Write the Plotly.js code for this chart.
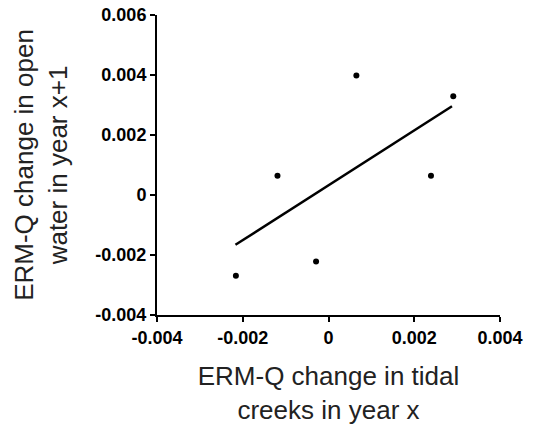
<!DOCTYPE html>
<html><head><meta charset="utf-8">
<script src="https://cdn.plot.ly/plotly-3.0.1.min.js"></script>
<style>html,body{margin:0;padding:0;background:#fff}#chart{width:534px;height:425px}</style>
</head><body><div id="chart"></div>
<script>
const creekChange = [-0.00216, -0.00119, -0.00029, 0.00065, 0.00239, 0.00291];
const openWaterChange = [-0.00269, 0.00064, -0.00222, 0.00398, 0.00064, 0.00329];
const fitX = [-0.00217, 0.00288];
const fitY = [-0.00166, 0.00296];
const xTickVals = [-0.004, -0.002, 0, 0.002, 0.004];
const xTickText = ['-0.004', '-0.002', '0', '0.002', '0.004'];
const yTickVals = [-0.004, -0.002, 0, 0.002, 0.004, 0.006];
const yTickText = ['-0.004', '-0.002', '0', '0.002', '0.004', '0.006'];

const fontFam = 'Liberation Sans, Arial, sans-serif';
const data = [
  {x: creekChange, y: openWaterChange, type: 'scatter', mode: 'markers',
   marker: {color: '#000', size: 6}, showlegend: false, hoverinfo: 'none'},
  {x: fitX, y: fitY, type: 'scatter', mode: 'lines',
   line: {color: '#000', width: 2.5}, showlegend: false, hoverinfo: 'none'}
];
const axisCommon = {
  showline: true, linecolor: '#000', linewidth: 2, ticks: 'outside', ticklen: 5,
  tickwidth: 2, tickcolor: '#000', showgrid: false, zeroline: false,
  tickfont: {family: fontFam, size: 18, color: '#000', weight: 'bold'}
};
const layout = {
  width: 534, height: 425,
  margin: {l: 157, r: 34, t: 15, b: 110},
  paper_bgcolor: '#fff', plot_bgcolor: '#fff',
  xaxis: Object.assign({}, axisCommon, {
    range: [-0.004, 0.004], tickmode: 'array', tickvals: xTickVals, ticktext: xTickText,
    title: {text: 'ERM-Q change in tidal<br>creeks in year x', font: {family: fontFam, size: 26, color: '#222'}, standoff: 22}
  }),
  yaxis: Object.assign({}, axisCommon, {
    range: [-0.004, 0.006], tickmode: 'array', tickvals: yTickVals, ticktext: yTickText,
    title: {text: 'ERM-Q change in open<br>water in year x+1', font: {family: fontFam, size: 26, color: '#222'}, standoff: 20}
  })
};
Plotly.newPlot('chart', data, layout, {staticPlot: true});
</script></body></html>
